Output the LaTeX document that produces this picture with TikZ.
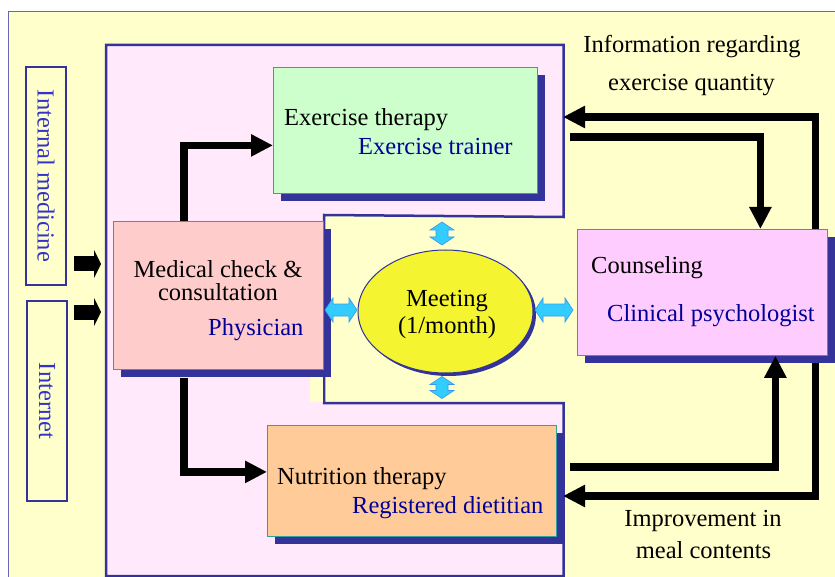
\documentclass[tikz,border=0pt]{standalone}
\usepackage{fontspec}
\setmainfont{Liberation Serif}
\usetikzlibrary{arrows.meta,shapes.geometric,shadows}
\definecolor{bgyel}{HTML}{FFFFCC}
\definecolor{pinkbg}{HTML}{FFE9FB}
\definecolor{navy}{HTML}{333399}
\definecolor{tealb}{HTML}{33A0A0}
\definecolor{exgreen}{HTML}{CCFFCC}
\definecolor{medpink}{HTML}{FFCCCC}
\definecolor{coupink}{HTML}{FFCCFF}
\definecolor{nutor}{HTML}{FFCC99}
\definecolor{meetyel}{HTML}{F4F430}
\definecolor{roleblue}{HTML}{000099}
\definecolor{sideblue}{HTML}{3333CC}
\definecolor{arrcyan}{HTML}{33CCFF}
\definecolor{arredge}{HTML}{3399EE}
\tikzset{
  pics/hdbl/.style={code={
    \filldraw[fill=arrcyan, draw=arredge, line width=0.6pt, line join=miter]
      (-#1,0) -- (-#1+8,-12) -- (-#1+8,-6) -- (#1-8,-6) -- (#1-8,-12) -- (#1,0)
      -- (#1-8,12) -- (#1-8,6) -- (-#1+8,6) -- (-#1+8,12) -- cycle;}}
}
\begin{document}
\begin{tikzpicture}[x=1pt,y=-1pt,
  font=\fontsize{24.5}{29}\selectfont,
  box/.style={draw=tealb, line width=0.8pt, anchor=north west, inner sep=0pt,
    drop shadow={shadow xshift=8pt, shadow yshift=-8pt, fill=navy, opacity=1}},
  sidebox/.style={draw=navy, line width=2.5pt, fill=bgyel, text=sideblue, inner sep=0pt, rotate=-90},
  txt/.style={inner sep=0pt, anchor=base west},
  ctxt/.style={inner sep=0pt, anchor=base},
  role/.style={text=roleblue},
  tipb/.tip={Triangle[length=22pt,width=21pt]},
  blk/.style={line width=7.5pt, draw=black, line join=miter, -tipb},
  smallarr/.style={line width=15pt, draw=black, -{Triangle[length=7pt,width=28pt]}}
]
\useasboundingbox (0,0) rectangle (835,577);
% background
\fill[bgyel] (8,11) rectangle (835,577);
\draw[navy!75, line width=0.8pt] (8,577) -- (8,11) -- (835,11);
% pink region with cut-out
\filldraw[fill=pinkbg, draw=navy, line width=2.5pt, line join=miter]
  (106,45) -- (563.5,45) -- (563.5,217) -- (324,215) -- (324,403) -- (563.5,403)
  -- (563.5,576) -- (106,576) -- cycle;
\fill[bgyel] (310,377) rectangle (322.8,401.5);

% coordinates for free connector ends
\coordinate (inTop) at (563,117);
\coordinate (cT) at (815.5,117);
\coordinate (cB) at (815.5,496);
\coordinate (inBot) at (563,496);
\coordinate (oTop) at (570,137);
\coordinate (oBot) at (570,467);
\coordinate (la1) at (74,264);
\coordinate (lb1) at (101,264);
\coordinate (la2) at (74,312);
\coordinate (lb2) at (101,312);

% feedback loop (behind counseling box)
\draw[line width=7.5pt, line join=miter, tipb-tipb] (inTop) -- (cT) -- (cB) -- (inBot);

% side boxes
\node[sidebox, minimum width=218pt, minimum height=40pt] (im) at (46,176) {Internal medicine};
\node[sidebox, minimum width=200pt, minimum height=40pt] (inet) at (47,401) {Internet};
\draw[smallarr] (la1) -- (lb1);
\draw[smallarr] (la2) -- (lb2);

% boxes
\node[box, fill=exgreen, minimum width=264pt, minimum height=126pt] (ex) at (273,67) {};
\node[box, fill=medpink, minimum width=210pt, minimum height=148pt] (med) at (113,221) {};
\node[box, fill=coupink, minimum width=250pt, minimum height=126pt] (cou) at (577,229) {};
\node[box, fill=nutor, minimum width=289pt, minimum height=111pt] (nut) at (267,425) {};

% meeting
\node[ellipse, draw=navy, line width=1pt, fill=meetyel, minimum width=175pt, minimum height=123pt,
  drop shadow={shadow xshift=3pt, shadow yshift=-3pt, fill=navy, opacity=1}] (meet) at (445.5,311.5) {};

% cyan double arrows
\pic at (341,310) {hdbl=16};
\pic at (554,310) {hdbl=19};
\pic[rotate=90] at (442,233.5) {hdbl=11.5};
\pic[rotate=90] at (442,387.5) {hdbl=11};

% texts
\node[txt] (t1) at (284,126) {Exercise therapy};
\node[txt, role] (t2) at (358,155) {Exercise trainer};
\node[ctxt, text depth=0pt] (t3) at (218,278) {Medical check \&};
\node[ctxt, text height=13pt] (t4) at (218,300.5) {consultation};
\node[txt, role] (t5) at (208,335) {Physician};
\node[txt] (t6) at (591,274) {Counseling};
\node[txt, role] (t7) at (607,321) {Clinical psychologist};
\node[txt] (t8) at (277,484) {Nutrition therapy};
\node[txt, role] (t9) at (352,513) {Registered dietitian};
\node[ctxt] (t10) at (447,306) {Meeting};
\node[ctxt] (t11) at (447,333) {(1/month)};
\node[ctxt] (t12) at (692,53) {Information regarding};
\node[ctxt] (t13) at (691.5,91) {exercise quantity};
\node[ctxt] (t14) at (703,526) {Improvement in};
\node[ctxt] (t15) at (703.5,558) {meal contents};

% black arrows
\draw[blk] ([xshift=-34.5pt]med.north) |- ([yshift=-15pt]ex.west);
\draw[blk] ([xshift=-34.5pt,yshift=-8pt]med.south) |- ([yshift=9pt]nut.west);
\draw[blk] (oTop) -| ([xshift=58pt]cou.north);
\draw[blk] (oBot) -| ([xshift=73pt]cou.south);
\end{tikzpicture}
\end{document}
